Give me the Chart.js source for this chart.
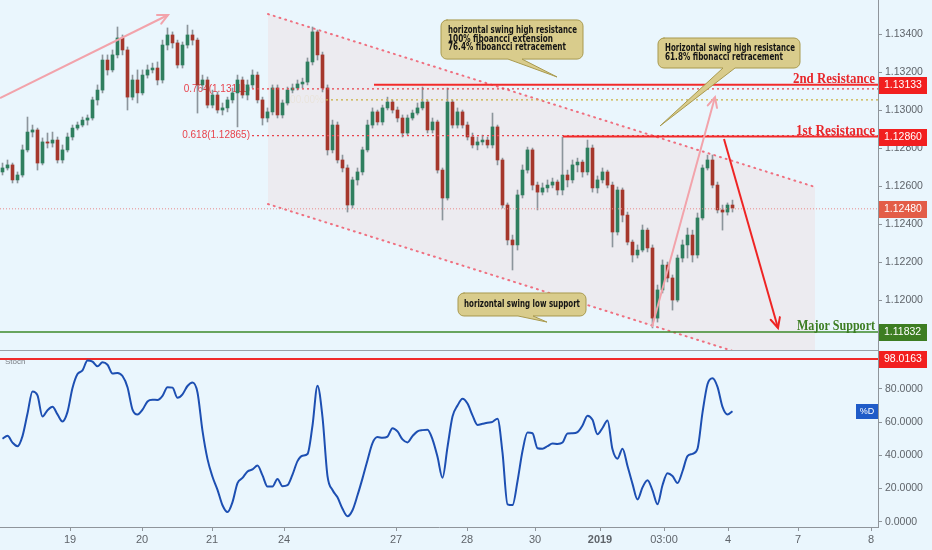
<!DOCTYPE html>
<html>
<head>
<meta charset="utf-8">
<script src="https://cdn.jsdelivr.net/npm/chart.js@4.4.1/dist/chart.umd.min.js"></script>
<style>
  html, body { margin: 0; padding: 0; background: #eaf6fd; }
  #wrap { position: relative; width: 932px; height: 550px; overflow: hidden; }
  #top { position: absolute; left: 0; top: 0; width: 932px; height: 351px; }
  #bot { position: absolute; left: 0; top: 350px; width: 932px; height: 200px; }
</style>
</head>
<body>
<div id="wrap">
  <div id="top"><canvas id="priceChart"></canvas></div>
  <div id="bot"><canvas id="stochChart"></canvas></div>
</div>
<script>
// EURUSD 1h candles (oldest first)
const open = [
  1.12674,1.12695,1.12711,1.12632,1.12658,1.12790,1.12884,1.12895,1.12721,1.12832,
  1.12826,1.12842,1.12737,1.12790,1.12858,1.12905,1.12921,1.12947,1.12958,1.13053,
  1.13105,1.13263,1.13211,1.13290,1.13379,1.13316,1.13068,1.13158,1.13090,1.13184,
  1.13211,1.13221,1.13158,1.13342,1.13395,1.13353,1.13237,1.13342,1.13395,1.13368,
  1.13132,1.13158,1.13026,1.13079,1.13000,1.13011,1.13053,1.13090,1.13158,1.13079,
  1.13132,1.13184,1.13053,1.12958,1.12990,1.13116,1.12974,1.13037,1.13105,1.13116,
  1.13137,1.13147,1.13253,1.13411,1.13290,1.13116,1.12790,1.12921,1.12737,1.12695,
  1.12500,1.12632,1.12674,1.12790,1.12921,1.12990,1.12937,1.13011,1.13042,1.13000,
  1.12958,1.12879,1.12958,1.12984,1.13011,1.13042,1.12895,1.12937,1.12684,1.12537,
  1.13042,1.12921,1.12990,1.12921,1.12858,1.12816,1.12832,1.12842,1.12816,1.12911,
  1.12737,1.12500,1.12316,1.12290,1.12553,1.12684,1.12790,1.12605,1.12568,1.12590,
  1.12605,1.12621,1.12579,1.12658,1.12632,1.12711,1.12726,1.12674,1.12800,1.12590,
  1.12632,1.12674,1.12605,1.12358,1.12579,1.12447,1.12305,1.12237,1.12263,1.12368,
  1.12274,1.11905,1.12053,1.12184,1.12116,1.12000,1.12221,1.12290,1.12342,1.12237,
  1.12432,1.12695,1.12737,1.12605,1.12474,1.12463,1.12500
];
const high = [
  1.12721,1.12737,1.12721,1.12674,1.12816,1.12963,1.12921,1.12905,1.12853,1.12879,
  1.12884,1.12858,1.12816,1.12879,1.12921,1.12937,1.12963,1.12974,1.13068,1.13132,
  1.13290,1.13290,1.13316,1.13437,1.13395,1.13332,1.13184,1.13211,1.13211,1.13237,
  1.13247,1.13253,1.13368,1.13432,1.13411,1.13368,1.13358,1.13447,1.13421,1.13379,
  1.13184,1.13174,1.13105,1.13095,1.13037,1.13068,1.13116,1.13184,1.13174,1.13158,
  1.13211,1.13200,1.13068,1.13011,1.13132,1.13132,1.13053,1.13121,1.13137,1.13158,
  1.13168,1.13274,1.13437,1.13421,1.13305,1.13132,1.12947,1.12937,1.12763,1.12711,
  1.12647,1.12695,1.12805,1.12947,1.13011,1.13000,1.13026,1.13068,1.13053,1.13016,
  1.12974,1.12974,1.13000,1.13037,1.13121,1.13053,1.12958,1.12947,1.12695,1.13116,
  1.13053,1.13011,1.13000,1.12937,1.12879,1.12858,1.12868,1.12858,1.12984,1.12921,
  1.12747,1.12511,1.12342,1.12579,1.12711,1.12805,1.12800,1.12621,1.12616,1.12632,
  1.12642,1.12632,1.12858,1.12684,1.12737,1.12747,1.12737,1.12842,1.12816,1.12653,
  1.12695,1.12684,1.12621,1.12595,1.12590,1.12463,1.12316,1.12290,1.12395,1.12379,
  1.12290,1.12079,1.12211,1.12200,1.12132,1.12237,1.12316,1.12379,1.12368,1.12458,
  1.12711,1.12763,1.12763,1.12621,1.12500,1.12511,1.12526
];
const low = [
  1.12658,1.12684,1.12616,1.12616,1.12647,1.12779,1.12858,1.12684,1.12711,1.12800,
  1.12805,1.12721,1.12721,1.12779,1.12842,1.12895,1.12911,1.12921,1.12947,1.13026,
  1.13090,1.13184,1.13200,1.13274,1.13290,1.13000,1.13053,1.13037,1.13079,1.13168,
  1.13195,1.13132,1.13142,1.13316,1.13326,1.13221,1.13221,1.13326,1.13342,1.12984,
  1.13105,1.13011,1.13011,1.12984,1.12974,1.12990,1.13037,1.12911,1.13063,1.13053,
  1.13116,1.13037,1.12921,1.12937,1.12974,1.12958,1.12958,1.13026,1.13090,1.13105,
  1.13116,1.13132,1.13237,1.13263,1.13095,1.12763,1.12774,1.12721,1.12674,1.12463,
  1.12484,1.12605,1.12658,1.12779,1.12905,1.12921,1.12921,1.13000,1.12984,1.12937,
  1.12858,1.12868,1.12947,1.12974,1.13000,1.12879,1.12879,1.12668,1.12421,1.12526,
  1.12905,1.12905,1.12905,1.12842,1.12800,1.12790,1.12816,1.12800,1.12800,1.12711,
  1.12484,1.12290,1.12158,1.12263,1.12537,1.12668,1.12579,1.12474,1.12553,1.12568,
  1.12590,1.12553,1.12553,1.12595,1.12616,1.12674,1.12647,1.12658,1.12568,1.12563,
  1.12616,1.12590,1.12279,1.12342,1.12411,1.12290,1.12200,1.12221,1.12253,1.12253,
  1.11853,1.11884,1.12037,1.12095,1.11947,1.11990,1.12200,1.12221,1.12200,1.12221,
  1.12421,1.12684,1.12590,1.12458,1.12368,1.12447,1.12463
];
const close = [
  1.12695,1.12711,1.12632,1.12658,1.12790,1.12884,1.12895,1.12721,1.12832,1.12826,
  1.12842,1.12737,1.12790,1.12858,1.12905,1.12921,1.12947,1.12958,1.13053,1.13105,
  1.13263,1.13211,1.13290,1.13379,1.13316,1.13068,1.13158,1.13090,1.13184,1.13211,
  1.13221,1.13158,1.13342,1.13395,1.13353,1.13237,1.13342,1.13395,1.13368,1.13132,
  1.13158,1.13026,1.13079,1.13000,1.13011,1.13053,1.13090,1.13158,1.13079,1.13132,
  1.13184,1.13053,1.12958,1.12990,1.13116,1.12974,1.13037,1.13105,1.13116,1.13137,
  1.13147,1.13253,1.13411,1.13290,1.13116,1.12790,1.12921,1.12737,1.12695,1.12500,
  1.12632,1.12674,1.12790,1.12921,1.12990,1.12937,1.13011,1.13042,1.13000,1.12958,
  1.12879,1.12958,1.12984,1.13011,1.13042,1.12895,1.12937,1.12684,1.12537,1.13042,
  1.12921,1.12990,1.12921,1.12858,1.12816,1.12832,1.12842,1.12816,1.12911,1.12737,
  1.12500,1.12316,1.12290,1.12553,1.12684,1.12790,1.12605,1.12568,1.12590,1.12605,
  1.12621,1.12579,1.12658,1.12632,1.12711,1.12726,1.12674,1.12800,1.12590,1.12632,
  1.12674,1.12605,1.12358,1.12579,1.12447,1.12305,1.12237,1.12263,1.12368,1.12274,
  1.11905,1.12053,1.12184,1.12116,1.12000,1.12221,1.12290,1.12342,1.12237,1.12432,
  1.12695,1.12737,1.12605,1.12474,1.12463,1.12500,1.12484
];
// Stochastic %D, one value per candle
const stochD = [
  50.0,51.8,47.7,45.5,51.6,65.2,78.5,76.1,63.4,67.2,
  69.3,64.7,60.4,66.2,80.6,89.0,91.2,97.2,96.5,93.7,
  96.1,94.6,89.3,89.7,87.8,81.1,67.6,64.6,67.5,72.5,
  73.5,73.4,75.9,81.1,80.8,74.7,76.8,81.8,83.9,77.9,
  54.7,37.7,27.1,19.2,9.9,5.8,11.8,23.3,26.4,30.3,
  31.5,33.9,27.9,21.2,21.2,25.8,21.4,22.0,28.4,36.5,
  39.8,40.8,58.0,82.0,63.0,27.5,19.1,14.7,7.8,3.3,
  6.9,15.9,26.1,37.1,47.4,51.0,50.6,51.3,56.4,54.4,
  49.6,47.8,51.6,54.5,55.2,55.4,49.6,39.1,26.5,45.0,
  63.4,70.0,74.1,71.2,64.1,58.3,59.0,59.7,60.2,62.1,
  41.6,10.5,10.0,24.4,42.6,53.7,53.3,44.3,44.0,45.5,
  47.1,46.9,47.7,53.2,53.3,54.0,58.0,63.9,61.4,52.7,
  56.5,61.0,43.6,38.0,44.0,33.6,22.8,13.4,20.7,25.0,
  18.9,10.5,22.0,29.2,27.5,23.3,30.4,39.5,40.9,44.0,
  65.8,82.9,86.5,81.3,69.2,64.6,66.6
];
const dayLabels = ['19', '20', '21', '24', '27', '28', '30', '2019', '03:00', '4', '7', '8'];
const dayTickPos = [13.5, 27.9, 41.9, 56.3, 78.7, 92.9, 106.5, 119.5, 132.3, 145.1, 159.1, 173.7];
const priceTicks = [1.118, 1.120, 1.122, 1.124, 1.126, 1.128, 1.130, 1.132, 1.134];
const stochTicks = [0, 20, 40, 60, 80];

// levels drawn on the chart
const resist2 = 1.13133;
const resist1 = 1.12860;
const support = 1.11832;
const lastPrice = 1.12480;
const fib764 = 1.13111;
const fib100 = 1.13053;
const fib618 = 1.12865;
const stochLevel = 98.0163;

// drawing tools (x in candle index, y in price)
const xMin = -0.5, xMax = 175.1;
const channelX = [53.1, 162.5];
const channelTop = [1.13505, 1.12595];
const channelBottom = [1.12505, 1.11595];
const arrows = [
  { x: [-0.5, 33.1], y: [1.13063, 1.13500], color: '#f2a3ab' },
  { x: [129.9, 142.5], y: [1.11858, 1.13068], color: '#f2a3ab' },
  { x: [144.3, 155.1], y: [1.12847, 1.11853], color: '#ee2424' }
];
const callouts = [
  { x1: 87.7, x2: 116.1, y1: 1.13474, y2: 1.13268, b1: 101.1, b2: 103.9, tx: 110.9, ty: 1.13174,
    lines: ['horizontal swing high resistance', '100% fiboancci extension', '76.4% fiboancci retracement'],
    widths: [129, 105, 118], offs: [10.5, 19, 27.5], center: false },
  { x1: 131.1, x2: 159.5, y1: 1.13379, y2: 1.13221, b1: 144.1, b2: 146.5, tx: 131.5, ty: 1.12916,
    lines: ['Horizontal swing high resistance', '61.8% fibonacci retracement'],
    widths: [130, 118], offs: [10, 19], center: false },
  { x1: 91.1, x2: 116.7, y1: 1.12037, y2: 1.11916, b1: 103.1, b2: 106.1, tx: 108.9, ty: 1.11884,
    lines: ['horizontal swing low support'], widths: [116], offs: [11.5], center: true }
];

const family = '"Liberation Sans", "DejaVu Sans", Arial, sans-serif';
const upColor = '#2f7f5f';
const downColor = '#a5372c';
const axisGrey = '#8f959b';
const tickColor = '#5f646a';

Chart.defaults.font.family = family;

function hline(label, x0, value, color, width, dash, order) {
  return {
    type: 'line', label, data: [{ x: x0, y: value }, { x: xMax, y: value }],
    borderColor: color, borderWidth: width, borderDash: dash || [], pointRadius: 0,
    fill: false, tension: 0, order
  };
}

function fitText(ctx, str, px, py, w, align) {
  const m = ctx.measureText(str).width;
  ctx.save();
  ctx.translate(px, py);
  ctx.scale(w / m, 1);
  ctx.textAlign = 'left';
  ctx.fillText(str, align === 'right' ? -m : align === 'center' ? -m / 2 : 0, 0);
  ctx.restore();
}

function arrowHead(ctx, x0, y0, x1, y1, color) {
  const ang = Math.atan2(y1 - y0, x1 - x0), len = 11, spread = 0.45;
  ctx.beginPath();
  ctx.moveTo(x1 - len * Math.cos(ang - spread), y1 - len * Math.sin(ang - spread));
  ctx.lineTo(x1, y1);
  ctx.lineTo(x1 - len * Math.cos(ang + spread), y1 - len * Math.sin(ang + spread));
  ctx.strokeStyle = color;
  ctx.lineWidth = 2;
  ctx.lineCap = 'round';
  ctx.stroke();
}

function priceBox(ctx, py, text, color) {
  ctx.fillStyle = color;
  ctx.fillRect(879, Math.round(py) - 8, 48, 17);
  ctx.fillStyle = '#ffffff';
  ctx.font = '10.5px ' + family;
  ctx.textAlign = 'left';
  ctx.textBaseline = 'middle';
  ctx.fillText(text, 884, Math.round(py) + 0.5);
}

// no extra room for the end tick labels, so the panes keep their full height
function fitRightAxis(s) {
  s.width = 54;
  s.paddingTop = 0;
  s.paddingBottom = 0;
}

// ---- price pane ----
const priceSets = [];
arrows.forEach((a, i) => priceSets.push({
  type: 'line', label: 'arrow' + i, data: [{ x: a.x[0], y: a.y[0] }, { x: a.x[1], y: a.y[1] }],
  borderColor: a.color, borderWidth: 2, pointRadius: 0, fill: false, tension: 0, order: 0
}));
priceSets.push(hline('resist2', 74.3, resist2, '#f22b2b', 2, null, 1));
priceSets.push(hline('resist1', 112.1, resist1, '#f22b2b', 2, null, 1));
priceSets.push(hline('support', xMin, support, '#3d8a2a', 1.5, null, 1));
priceSets.push(hline('fib764', 49.9, fib764, '#e8434c', 1.3, [2, 3], 2));
priceSets.push(hline('fib100', 64.7, fib100, '#c9b040', 1.3, [2, 3], 2));
priceSets.push(hline('fib618', 49.9, fib618, '#e8434c', 1.3, [2, 3], 2));
priceSets.push(hline('last', xMin, lastPrice, '#e88a8a', 1, [1, 2], 2));
priceSets.push({
  type: 'bar', label: 'bodies',
  data: close.map((c, i) => ({ x: i, y: [open[i], c] })),
  backgroundColor: ctx => (close[ctx.dataIndex] >= open[ctx.dataIndex] ? upColor : downColor),
  barThickness: 3, grouped: false, borderWidth: 0, order: 3
});
priceSets.push({
  type: 'bar', label: 'wicks',
  data: close.map((c, i) => ({ x: i, y: [low[i], high[i]] })),
  backgroundColor: '#8c959c', barThickness: 1, grouped: false, borderWidth: 0, order: 4
});
const topIdx = priceSets.length;
priceSets.push({
  type: 'line', label: 'channelTop',
  data: [{ x: channelX[0], y: channelTop[0] }, { x: channelX[1], y: channelTop[1] }],
  borderColor: '#ef7080', borderWidth: 2, borderDash: [1, 5], borderCapStyle: 'round',
  pointRadius: 0, fill: false, tension: 0, order: 5
});
priceSets.push({
  type: 'line', label: 'channelBottom',
  data: [{ x: channelX[0], y: channelBottom[0] }, { x: channelX[1], y: channelBottom[1] }],
  borderColor: '#ef7080', borderWidth: 2, borderDash: [1, 5], borderCapStyle: 'round',
  pointRadius: 0, fill: false, tension: 0, order: 5
});
priceSets.push({
  type: 'line', label: 'band',
  data: [{ x: channelX[0], y: channelBottom[0] }, { x: channelX[1], y: channelBottom[1] }],
  borderWidth: 0, pointRadius: 0, tension: 0,
  fill: topIdx, backgroundColor: 'rgba(236,234,238,0.9)', order: 6
});

const priceDecor = {
  id: 'priceDecor',
  beforeDatasetsDraw(chart) {
    const { ctx, scales: { x, y } } = chart;
    ctx.save();
    ctx.font = '10px ' + family;
    ctx.textBaseline = 'middle';
    ctx.textAlign = 'right';
    ctx.fillStyle = '#e8434c';
    ctx.fillText('0.764(1.13111)', x.getPixelForValue(49.9) - 2, y.getPixelForValue(fib764));
    ctx.fillText('0.618(1.12865)', x.getPixelForValue(49.9) - 2, y.getPixelForValue(fib618));
    ctx.fillStyle = '#c9a63a';
    ctx.fillText('100.00%', x.getPixelForValue(64.7) - 2, y.getPixelForValue(fib100));
    ctx.restore();
  },
  afterDatasetsDraw(chart) {
    const { ctx, scales: { x, y } } = chart;
    ctx.save();
    arrows.forEach(a => arrowHead(ctx,
      x.getPixelForValue(a.x[0]), y.getPixelForValue(a.y[0]),
      x.getPixelForValue(a.x[1]), y.getPixelForValue(a.y[1]), a.color));

    // level captions
    ctx.font = 'bold 15px "Liberation Serif", "DejaVu Serif", serif';
    ctx.textBaseline = 'alphabetic';
    ctx.fillStyle = '#e8262a';
    fitText(ctx, '2nd Resistance', 875, y.getPixelForValue(resist2) - 2, 82, 'right');
    fitText(ctx, '1st Resistance', 875, y.getPixelForValue(resist1) - 2, 79, 'right');
    ctx.fillStyle = '#3c7d22';
    fitText(ctx, 'Major Support', 875, y.getPixelForValue(support) - 2, 78, 'right');

    // callouts
    callouts.forEach(c => {
      const L = x.getPixelForValue(c.x1), R = x.getPixelForValue(c.x2);
      const T = y.getPixelForValue(c.y1), B = y.getPixelForValue(c.y2);
      const b1 = x.getPixelForValue(c.b1), b2 = x.getPixelForValue(c.b2);
      const tx = x.getPixelForValue(c.tx), ty = y.getPixelForValue(c.ty);
      const r = 6;
      ctx.beginPath();
      ctx.moveTo(L + r, T);
      ctx.lineTo(R - r, T);
      ctx.arcTo(R, T, R, T + r, r);
      ctx.lineTo(R, B - r);
      ctx.arcTo(R, B, R - r, B, r);
      ctx.lineTo(b2, B);
      ctx.lineTo(tx, ty);
      ctx.lineTo(b1, B);
      ctx.lineTo(L + r, B);
      ctx.arcTo(L, B, L, B - r, r);
      ctx.lineTo(L, T + r);
      ctx.arcTo(L, T, L + r, T, r);
      ctx.closePath();
      ctx.fillStyle = '#d9cc8c';
      ctx.fill();
      ctx.strokeStyle = '#a8994e';
      ctx.lineWidth = 1;
      ctx.stroke();
      ctx.fillStyle = '#141414';
      ctx.font = 'bold 11px "DejaVu Sans Condensed", "Liberation Sans Narrow", "Liberation Sans", sans-serif';
      ctx.textBaseline = 'middle';
      c.lines.forEach((s, k) => {
        if (c.center) fitText(ctx, s, (L + R) / 2, T + c.offs[k], c.widths[k], 'center');
        else fitText(ctx, s, L + 7, T + c.offs[k], c.widths[k], 'left');
      });
    });
    ctx.restore();
  },
  afterDraw(chart) {
    const { ctx, chartArea, scales: { y } } = chart;
    ctx.save();
    ctx.strokeStyle = '#9aa0a6';
    ctx.lineWidth = 1;
    ctx.beginPath();
    ctx.moveTo(0, chartArea.bottom + 0.5);
    ctx.lineTo(chartArea.right, chartArea.bottom + 0.5);
    ctx.stroke();
    priceBox(ctx, y.getPixelForValue(resist2), resist2.toFixed(5), '#f21f1f');
    priceBox(ctx, y.getPixelForValue(resist1), resist1.toFixed(5), '#f21f1f');
    priceBox(ctx, y.getPixelForValue(lastPrice), lastPrice.toFixed(5), '#e35d48');
    priceBox(ctx, y.getPixelForValue(support), support.toFixed(5), '#3d7d22');
    ctx.restore();
  }
};

new Chart(document.getElementById('priceChart'), {
  type: 'bar',
  data: { datasets: priceSets },
  options: {
    responsive: true,
    maintainAspectRatio: false,
    animation: false,
    layout: { padding: { top: 0, bottom: 1, left: 0, right: 0 } },
    plugins: { legend: { display: false }, tooltip: { enabled: false } },
    scales: {
      x: { type: 'linear', min: xMin, max: xMax, offset: false, display: false },
      y: {
        position: 'right', min: 1.11737, max: 1.13579, beginAtZero: false,
        afterFit: fitRightAxis,
        afterBuildTicks: s => { s.ticks = priceTicks.map(v => ({ value: v })); },
        ticks: { callback: v => v.toFixed(5), color: tickColor, font: { size: 10.5 }, padding: 3, autoSkip: false },
        grid: { drawOnChartArea: false, tickLength: 4, color: axisGrey },
        border: { color: axisGrey }
      }
    }
  },
  plugins: [priceDecor]
});

// ---- stochastic pane ----
const stochDecor = {
  id: 'stochDecor',
  beforeDatasetsDraw(chart) {
    const { ctx } = chart;
    ctx.save();
    ctx.font = '8px ' + family;
    ctx.fillStyle = '#7a7f85';
    ctx.textBaseline = 'middle';
    ctx.textAlign = 'left';
    ctx.fillText('Stoch', 5, 12);
    ctx.restore();
  },
  afterDraw(chart) {
    const { ctx, scales: { y } } = chart;
    ctx.save();
    priceBox(ctx, y.getPixelForValue(stochLevel), stochLevel.toFixed(4), '#f21f1f');
    const py = Math.round(y.getPixelForValue(stochD[stochD.length - 1]));
    ctx.fillStyle = '#1f5bc8';
    ctx.fillRect(856, py - 7, 22, 15);
    ctx.fillStyle = '#ffffff';
    ctx.font = '9px ' + family;
    ctx.textAlign = 'center';
    ctx.textBaseline = 'middle';
    ctx.fillText('%D', 867, py + 0.5);
    ctx.restore();
  }
};

new Chart(document.getElementById('stochChart'), {
  type: 'line',
  data: {
    datasets: [
      {
        label: '%D', data: stochD.map((v, i) => ({ x: i, y: v })),
        borderColor: '#1d4fb2', borderWidth: 2, pointRadius: 0,
        cubicInterpolationMode: 'monotone', fill: false, order: 0
      },
      {
        label: 'level', data: [{ x: xMin, y: stochLevel }, { x: xMax, y: stochLevel }],
        borderColor: '#f02a2a', borderWidth: 2, pointRadius: 0, fill: false, order: 1
      }
    ]
  },
  options: {
    responsive: true,
    maintainAspectRatio: false,
    animation: false,
    layout: { padding: { top: 1, bottom: 0, left: 0, right: 0 } },
    plugins: { legend: { display: false }, tooltip: { enabled: false } },
    scales: {
      x: {
        type: 'linear', min: xMin, max: xMax, offset: false,
        afterFit: s => { s.height = 23; },
        afterBuildTicks: s => { s.ticks = dayTickPos.map(v => ({ value: v })); },
        ticks: {
          callback: (v, i) => dayLabels[i],
          autoSkip: false, maxRotation: 0, color: tickColor, padding: 2,
          font: ctx => ({ size: 11, weight: dayLabels[ctx.index] === '2019' ? 'bold' : 'normal' })
        },
        grid: { drawOnChartArea: false, tickLength: 4, color: axisGrey },
        border: { color: axisGrey }
      },
      y: {
        position: 'right', min: -3.2, max: 102.9,
        afterFit: fitRightAxis,
        afterBuildTicks: s => { s.ticks = stochTicks.map(v => ({ value: v })); },
        ticks: { callback: v => v.toFixed(4), color: tickColor, font: { size: 10.5 }, padding: 3, autoSkip: false },
        grid: { drawOnChartArea: false, tickLength: 4, color: axisGrey },
        border: { color: axisGrey }
      }
    }
  },
  plugins: [stochDecor]
});
</script>
</body>
</html>
